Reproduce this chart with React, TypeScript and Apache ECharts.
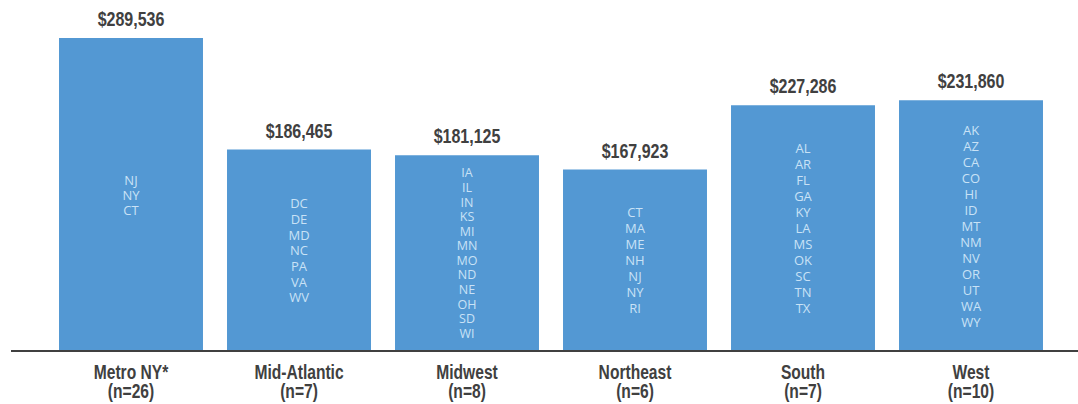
import React, { useEffect, useRef } from "react";
import * as echarts from "echarts";

const regions = ["Metro NY*", "Mid-Atlantic", "Midwest", "Northeast", "South", "West"];
const sampleN = [26, 7, 8, 6, 7, 10];
const medianPay = [289536, 186465, 181125, 167923, 227286, 231860];
const statesMetroNY = ["NJ", "NY", "CT"];
const statesMidAtlantic = ["DC", "DE", "MD", "NC", "PA", "VA", "WV"];
const statesMidwest = ["IA", "IL", "IN", "KS", "MI", "MN", "MO", "ND", "NE", "OH", "SD", "WI"];
const statesNortheast = ["CT", "MA", "ME", "NH", "NJ", "NY", "RI"];
const statesSouth = ["AL", "AR", "FL", "GA", "KY", "LA", "MS", "OK", "SC", "TN", "TX"];
const statesWest = ["AK", "AZ", "CA", "CO", "HI", "ID", "MT", "NM", "NV", "OR", "UT", "WA", "WY"];
const statesByRegion = [statesMetroNY, statesMidAtlantic, statesMidwest, statesNortheast, statesSouth, statesWest];
const stateLineHeights = [15, 15.7, 14.6, 16, 16, 16];

const condFont = "bold 20px 'Liberation Sans', Arial, sans-serif";

export default function App() {
  const ref = useRef<HTMLDivElement>(null);
  useEffect(() => {
    if (!ref.current) return;
    const chart = echarts.init(ref.current, null, { renderer: "svg" });
    chart.setOption({
      animation: false,
      grid: { left: 47, right: 23, top: 38, bottom: 53, containLabel: false },
      graphic: [
        {
          type: "line",
          shape: { x1: 11, y1: 351, x2: 1078, y2: 351 },
          style: { stroke: "#404040", lineWidth: 2 },
          z: 10,
        },
      ],
      xAxis: {
        type: "category",
        data: regions,
        axisLine: { show: false },
        axisTick: { show: false },
        axisLabel: { show: false },
      },
      yAxis: {
        type: "value",
        min: 0,
        max: Math.max(...medianPay),
        show: false,
        splitLine: { show: false },
      },
      series: [
        {
          type: "bar",
          barCategoryGap: "14.3%",
          itemStyle: { color: "#5398d3" },
          data: medianPay.map((v, i) => ({
            value: v,
            label: {
              show: true,
              position: "inside",
              formatter: statesByRegion[i].join("\n"),
              color: "#c9e2f6",
              fontFamily: "'Open Sans', sans-serif",
              fontSize: i === 2 ? 12.5 : 13,
              lineHeight: stateLineHeights[i],
            },
          })),
        },
        {
          type: "custom",
          clip: false,
          data: medianPay.map((v, i) => [i, v]),
          renderItem: (params: any, api: any) => {
            const i = api.value(0);
            const v = api.value(1);
            const top = api.coord([i, v]);
            const base = api.coord([i, 0]);
            return {
              type: "group",
              children: [
                {
                  type: "text",
                  x: top[0],
                  y: top[1] - 18.5,
                  scaleX: 0.8,
                  style: {
                    text: "$" + Number(v).toLocaleString("en-US"),
                    font: condFont,
                    fill: "#404040",
                    align: "center",
                    verticalAlign: "middle",
                  },
                },
                {
                  type: "text",
                  x: base[0],
                  y: base[1] + 11.5,
                  scaleX: 0.78,
                  style: {
                    text: regions[i] + "\n(n=" + sampleN[i] + ")",
                    font: condFont,
                    lineHeight: 19,
                    fill: "#404040",
                    align: "center",
                    verticalAlign: "top",
                  },
                },
              ],
            };
          },
        },
      ],
    });
    return () => chart.dispose();
  }, []);
  return (
    <div
      ref={ref}
      style={{ position: "absolute", left: 0, top: 0, width: 1078, height: 404 }}
    />
  );
}
